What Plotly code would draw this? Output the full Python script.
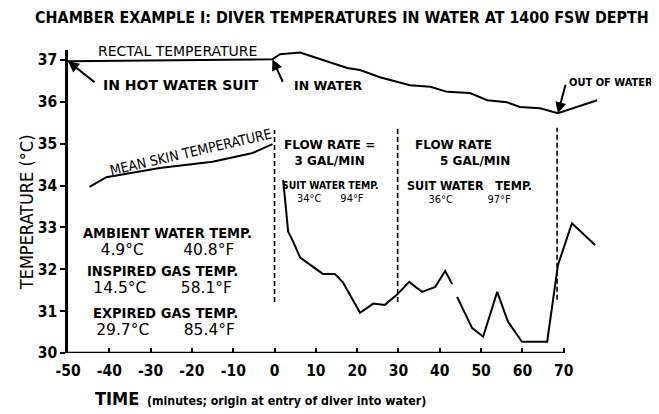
import plotly.graph_objects as go

# ---------------- data ----------------
rectal_time = [-50, -25, -0.5, 1.3, 6.2, 11.7, 17.6, 20.7, 25.5, 32.8, 37.7, 41.8,
               47.3, 51.5, 56.3, 59.4, 64.3, 68.6, 78.1]
rectal_temp = [36.97, 36.99, 37.02, 37.14, 37.18, 37.00, 36.81, 36.76, 36.59, 36.40, 36.36, 36.24,
               36.21, 36.04, 35.99, 35.88, 35.85, 35.73, 36.04]

skin_dry_time = [-44.8, -40.7, -27.8, -15.0, -5.3, -0.5]
skin_dry_temp = [33.97, 34.20, 34.42, 34.57, 34.78, 34.99]

skin_wet_time = [2.1, 3.3, 4.5, 6.2, 11.7, 14.6, 16.6, 20.7, 23.9, 26.7, 29.6, 32.6, 35.7,
                 38.9, 41.3, 43.0, None, 44.2, 47.8, 50.5, 53.9, 56.5, 59.9, 66.0, 68.6, 72.0, 77.6]
skin_wet_temp = [34.13, 32.90, 32.66, 32.28, 31.89, 31.89, 31.68, 30.96, 31.18, 31.15, 31.39, 31.70, 31.46,
                 31.58, 31.96, 31.65, None, 31.34, 30.60, 30.39, 31.46, 30.75, 30.27, 30.27, 32.10, 33.10, 32.58]

phase_time = [0, 29.8, 68.4]
phase_top = [35.33, 35.38, 35.38]
phase_bottom = [31.22, 31.22, 31.27]

x_ticks = list(range(-50, 71, 10))
y_ticks = list(range(30, 38))

title_text = "CHAMBER EXAMPLE I: DIVER TEMPERATURES IN WATER AT 1400 FSW DEPTH"

env_names = ["AMBIENT WATER TEMP.", "INSPIRED GAS TEMP.", "EXPIRED GAS TEMP."]
env_celsius = ["4.9°C", "14.5°C", "29.7°C"]
env_fahrenheit = ["40.8°F", "58.1°F", "85.4°F"]

suit_celsius = ["34°C", "36°C"]
suit_fahrenheit = ["94°F", "97°F"]

# ---------------- figure ----------------
COND = "DejaVu Sans Condensed, DejaVu Sans, sans-serif"
WIDE = "DejaVu Sans, sans-serif"
fig = go.Figure()

line_style = dict(color="black", width=2)
fig.add_trace(go.Scatter(x=rectal_time, y=rectal_temp, mode="lines", line=line_style,
                         showlegend=False, hoverinfo="skip"))
fig.add_trace(go.Scatter(x=skin_dry_time, y=skin_dry_temp, mode="lines", line=line_style,
                         showlegend=False, hoverinfo="skip"))
fig.add_trace(go.Scatter(x=skin_wet_time, y=skin_wet_temp, mode="lines", line=line_style,
                         showlegend=False, hoverinfo="skip", connectgaps=False))
for t, top, bot in zip(phase_time, phase_top, phase_bottom):
    fig.add_trace(go.Scatter(x=[t, t], y=[bot, top], mode="lines",
                             line=dict(color="black", width=1.6, dash="5px,3px"),
                             showlegend=False, hoverinfo="skip"))

# bottom axis line only spans the labelled ticks
fig.add_shape(type="line", xref="x", yref="y", x0=min(x_ticks), x1=max(x_ticks),
              y0=min(y_ticks), y1=min(y_ticks), line=dict(color="black", width=2.5))

def label(x, y, text, size=12, bold=True, xanchor="center", angle=0, family=COND, align="center"):
    fig.add_annotation(x=x, y=y, xref="x", yref="y", text=(f"<b>{text}</b>" if bold else text),
                       showarrow=False, xanchor=xanchor, yanchor="middle", textangle=angle,
                       align=align, font=dict(family=family, size=size, color="black"))

def arrow(x, y, ax, ay):
    fig.add_annotation(x=x, y=y, xref="x", yref="y", text="", showarrow=True, ax=ax, ay=ay,
                       arrowhead=2, arrowsize=1.1, arrowwidth=2, arrowcolor="black")

# curve labels
label(-23.5, 37.22, "RECTAL TEMPERATURE", size=14, bold=False, family=WIDE)
label(-22.6, 36.40, "IN HOT WATER SUIT", size=14, family=WIDE)
label(4.2, 36.40, "IN WATER", size=12.5, xanchor="left", family=WIDE)
label(70.8, 36.47, "OUT OF WATER", size=11, xanchor="left")
label(-20.3, 34.80, "MEAN SKIN TEMPERATURE", size=14, bold=False, angle=-13)

# arrows pointing at the rectal curve
i_entry = min(range(len(rectal_time)), key=lambda i: abs(rectal_time[i]))
i_out = min(range(len(rectal_temp)), key=lambda i: rectal_temp[i])
arrow(rectal_time[0], rectal_temp[0], 28, 22)
arrow(rectal_time[i_entry], rectal_temp[i_entry], 11, 24)
arrow(rectal_time[i_out], rectal_temp[i_out], 8, -30)

# flow-rate phase labels
label(13.3, 34.79, "FLOW RATE =<br>3 GAL/MIN", size=12, family=WIDE)
label(33.4, 34.79, "FLOW RATE<br>&nbsp;&nbsp;&nbsp;&nbsp;&nbsp;&nbsp;5 GAL/MIN", size=12, family=WIDE,
      xanchor="left", align="left")
label(13.6, 33.85,
      f"<b>SUIT WATER TEMP.</b><br><span style='font-size:11px'>{suit_celsius[0]}{'&nbsp;' * 6}{suit_fahrenheit[0]}</span>",
      size=10.3, bold=False)
label(47.3, 33.85,
      f"<b><span style='font-size:12.5px'>SUIT WATER &nbsp;&nbsp;TEMP.</span></b><br>"
      f"<span style='font-size:11px'>{suit_celsius[1]}{'&nbsp;' * 11}{suit_fahrenheit[1]}</span>",
      size=10.3, bold=False)

# environmental conditions block (header line + value line per entry)
env_x = [-25.8, -27.2, -26.3]
env_y = [32.66, 31.74, 30.74]
env_gap = [8, 7, 7]
for name, c, f, x, y, g in zip(env_names, env_celsius, env_fahrenheit, env_x, env_y, env_gap):
    txt = (f"<b><span style='font-size:14.5px'>{name}</span></b><br>"
           f"<span style='font-size:15.5px; font-family:DejaVu Sans'>{c}{'&nbsp;' * g}{f}</span>")
    label(x, y, txt, size=13, bold=False)

# axis titles as free text
fig.add_annotation(x=-0.078, y=0.465, xref="paper", yref="paper", text="TEMPERATURE (°C)",
                   xanchor="center", yanchor="middle",
                   textangle=-90, showarrow=False, font=dict(family=COND, size=18, color="black"))
fig.add_annotation(x=-3.5, y=-0.149, xref="x", yref="paper", xanchor="center", yanchor="middle",
                   text="<b><span style='font-size:18px'>TIME</span> &nbsp;(minutes; origin at entry of diver into water)</b>",
                   showarrow=False, font=dict(family=COND, size=12.3, color="black"))

# the page body adds an 8px offset, so the figure is sized to fit the 659x414 window
fig.update_layout(
    width=651, height=406,
    margin=dict(l=60, r=54, t=42, b=61, autoexpand=False),
    paper_bgcolor="white", plot_bgcolor="white",
    title=dict(text=f"<b>{title_text}</b>", x=0.513, xref="container", xanchor="center",
               y=0.978, yref="container", yanchor="middle",
               font=dict(family=COND, size=15.9, color="black")),
    xaxis=dict(range=[-50, 80], tickvals=x_ticks, ticktext=[str(v) for v in x_ticks],
               showgrid=False, zeroline=False, showline=False, ticks="inside", ticklen=5,
               tickwidth=2, tickcolor="black", automargin=False, ticklabelstandoff=6,
               tickfont=dict(family=COND, size=15.5, color="black", weight="bold")),
    yaxis=dict(range=[30, 37.24], tickvals=y_ticks, showgrid=False, zeroline=False,
               showline=True, linecolor="black", linewidth=2.5, ticks="outside", ticklen=5,
               tickwidth=2, tickcolor="black", automargin=False,
               tickfont=dict(family=COND, size=15.5, color="black", weight="bold")),
)

fig.write_html("out.html")
